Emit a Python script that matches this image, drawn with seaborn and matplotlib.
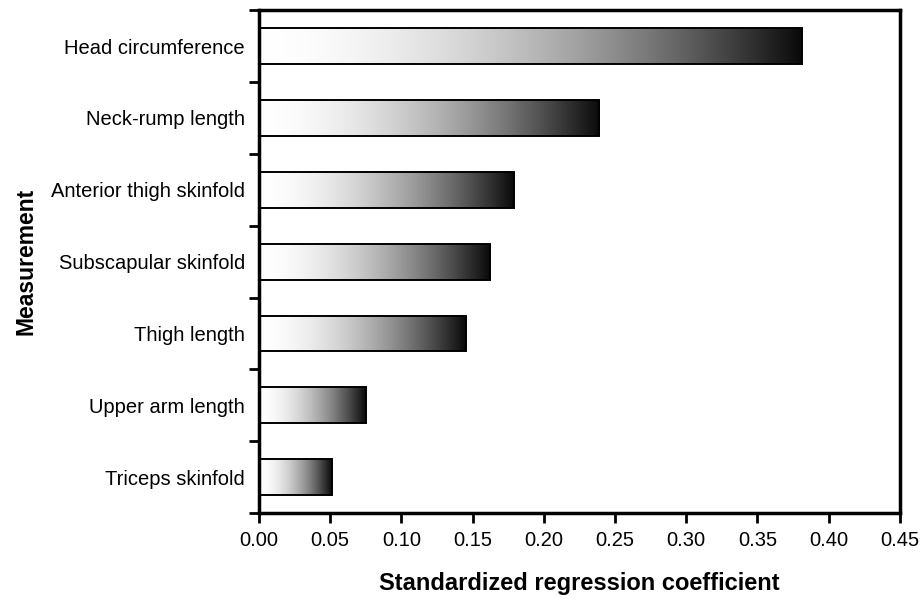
import numpy as np
import pandas as pd
import matplotlib
matplotlib.use("Agg")
import matplotlib.pyplot as plt
import seaborn as sns

measurements = ["Head circumference", "Neck-rump length", "Anterior thigh skinfold",
                "Subscapular skinfold", "Thigh length", "Upper arm length", "Triceps skinfold"]
coefficients = [0.381, 0.239, 0.179, 0.162, 0.145, 0.075, 0.051]
x_ticks = [0.00, 0.05, 0.10, 0.15, 0.20, 0.25, 0.30, 0.35, 0.40, 0.45]

df = pd.DataFrame({"Measurement": measurements, "Coefficient": coefficients})

sns.set_style("white")
plt.rcParams["font.family"] = ["Liberation Sans", "DejaVu Sans"]
plt.rcParams["text.color"] = "black"
plt.rcParams["axes.labelcolor"] = "black"
plt.rcParams["xtick.color"] = "black"
plt.rcParams["ytick.color"] = "black"

fig = plt.figure(figsize=(9.23, 5.98), dpi=100)
ax = fig.add_axes([0.2806, 0.142, 0.6944, 0.841])

sns.barplot(data=df, x="Coefficient", y="Measurement", orient="h", width=0.5,
            facecolor="none", edgecolor="black", linewidth=1.4, ax=ax, zorder=3)

# white-to-black gradient inside each bar (stays light longer, darkens toward the end)
t = np.linspace(0, 1, 256)
shade = 1.0 - 0.96 * t ** 1.8
grad = np.dstack([shade, shade, shade]).reshape(1, -1, 3)
for patch in ax.patches:
    x0, y0 = patch.get_x(), patch.get_y()
    w, h = patch.get_width(), patch.get_height()
    ax.imshow(grad, aspect="auto", extent=[x0, x0 + w, y0 + h, y0],
              zorder=2, interpolation="bilinear")

ax.set_xlim(0, 0.45)
ax.set_ylim(len(measurements) - 0.5, -0.5)
ax.set_xticks(x_ticks)
ax.set_xticklabels([f"{v:.2f}" for v in x_ticks], fontsize=14.5)
ax.set_yticks(range(len(measurements)))
ax.set_yticklabels(measurements, fontsize=14.5)
ax.set_yticks(np.arange(-0.5, len(measurements), 1.0), minor=True)
ax.tick_params(axis="y", which="major", length=0, pad=10)
ax.tick_params(axis="y", which="minor", length=7, width=2, direction="out", left=True)
ax.tick_params(axis="x", which="major", length=7, width=2, direction="out", bottom=True, pad=6)

for s in ax.spines.values():
    s.set_linewidth(2.5)
    s.set_color("black")

ax.set_xlabel("Standardized regression coefficient", fontsize=17, fontweight="bold", labelpad=16)
ax.set_ylabel("Measurement", fontsize=16.5, fontweight="bold", labelpad=10)

fig.savefig("out.png", dpi=100)
